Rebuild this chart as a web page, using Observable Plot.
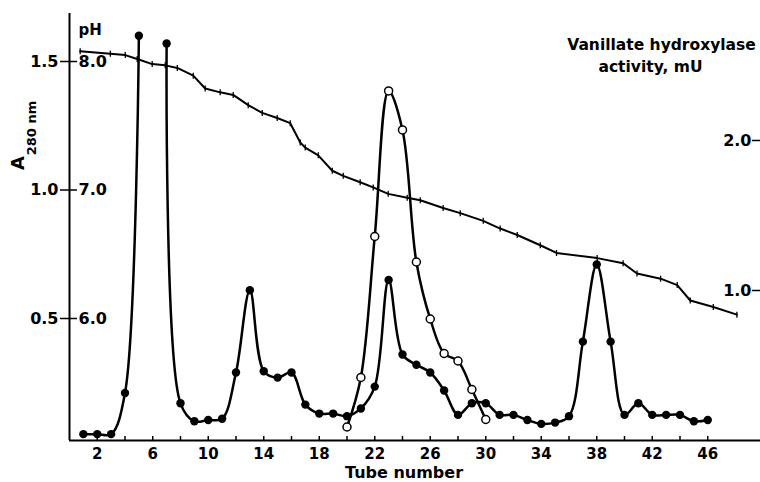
<!DOCTYPE html>
<html>
<head>
<meta charset="utf-8">
<script src="https://cdn.jsdelivr.net/npm/d3@7"></script>
<script src="https://cdn.jsdelivr.net/npm/@observablehq/plot@0.6"></script>
<style>
  html, body { margin: 0; padding: 0; background: #fff; }
</style>
</head>
<body>
<div id="chart"></div>
<script>
// ---- data ----
const tubes = d3.range(1, 47);
const a280 = [0.05, 0.05, 0.05, 0.21, 1.60, null, 1.57, 0.17, 0.10, 0.105,
              0.11, 0.29, 0.61, 0.295, 0.27, 0.29, 0.165, 0.13, 0.13, 0.12,
              0.15, 0.235, 0.65, 0.36, 0.32, 0.29, 0.22, 0.125, 0.17, 0.17,
              0.125, 0.125, 0.105, 0.09, 0.095, 0.12, 0.41, 0.71, 0.41, 0.125,
              0.17, 0.125, 0.125, 0.125, 0.10, 0.105];
const actTubes = [20, 21, 22, 23, 24, 25, 26, 27, 28, 29, 30];
const activity = [0.09, 0.42, 1.36, 2.33, 2.07, 1.19, 0.81, 0.58, 0.53, 0.34, 0.14];
const phTubes = [0.77, 2.94, 4.02, 4.88, 5.96, 6.9, 7.77, 8.92, 9.78, 10.86,
                 11.8, 12.88, 13.89, 14.97, 15.91, 16.63, 16.99, 17.93, 18.94, 19.73,
                 20.95, 21.89, 22.97, 24.34, 25.28, 26.93, 28.16, 29.82, 31.04, 32.27,
                 33.93, 35.1, 38.03, 39.9, 40.9, 42.6, 43.8, 44.74, 46.4, 48.1];
const phValues = [8.08, 8.06, 8.05, 8.02, 7.98, 7.97, 7.95, 7.89, 7.79, 7.76,
                  7.74, 7.66, 7.60, 7.56, 7.52, 7.37, 7.33, 7.27, 7.15, 7.11,
                  7.06, 7.02, 6.97, 6.94, 6.92, 6.86, 6.82, 6.76, 6.70, 6.65,
                  6.57, 6.51, 6.47, 6.43, 6.35, 6.31, 6.26, 6.14, 6.09, 6.03];
const xTickLabels = [2, 6, 10, 14, 18, 22, 26, 30, 34, 38, 42, 46];
const xTickMarks = d3.range(2, 47, 2);
const aTicks = [0.5, 1.0, 1.5];
const phTicks = [6.0, 7.0, 8.0];
const actTicks = [1.0, 2.0];

// ---- layout ----
const W = 760, H = 482;
const mL = 69, mR = 0, mT = 13, mB = 42;
const frameW = W - mL - mR, frameH = H - mT - mB;
const xMax = frameW / 13.875;
const yMin = 0.0253, yMax = 1.6868;
// secondary scales mapped onto A280 axis
const phToA = p => (p - 5) / 2;
const actToA = a => yMin + a * 0.5837;

const a280Data = tubes.map((t, i) => ({t, v: a280[i]}));
const actData = actTubes.map((t, i) => ({t, v: actToA(activity[i])}));
const phData = phTubes.map((t, i) => ({t, v: phToA(phValues[i])}));

const FONT = "DejaVu Sans";
const tickSymbol = {
  draw(context, size) {
    const h = Math.sqrt(size / Math.PI);
    context.moveTo(0, -h);
    context.lineTo(0, h);
  }
};
const label = (txt, frameAnchor, dx, dy, fontSize, extra = {}) =>
  Plot.text([txt], {text: d => d, frameAnchor, dx, dy, fontSize, fontWeight: "bold",
                    textAnchor: "middle", lineAnchor: "middle", ...extra});

const chart = Plot.plot({
  width: W, height: H,
  marginLeft: mL, marginRight: mR, marginTop: mT, marginBottom: mB,
  style: {fontFamily: FONT, fontWeight: "bold", fontSize: "15px", background: "#fff", color: "#000"},
  x: {domain: [0, xMax]},
  y: {domain: [yMin, yMax]},
  marks: [
    // axis lines
    Plot.ruleX([0], {stroke: "#000", strokeWidth: 2}),
    Plot.ruleY([yMin], {stroke: "#000", strokeWidth: 2}),
    // x axis: inward ticks every 2 tubes, labels every 4
    Plot.tickX(xTickMarks, {x: d => d, insetTop: frameH - 4, stroke: "#000", strokeWidth: 1.5}),
    Plot.axisX({ticks: xTickLabels, tickSize: 0, tickPadding: 8, tickFormat: d => String(d),
                fontSize: 15, fontWeight: "bold", label: null}),
    label("Tube number", "bottom", -11, 32, 16),
    // left axis A280 + pH
    Plot.axisY({ticks: aTicks, tickSize: 17, dx: 8, tickPadding: 2, strokeWidth: 1.5,
                tickFormat: d => d.toFixed(1), fontSize: 16, fontWeight: "bold", label: null}),
    Plot.text(phTicks, {y: d => phToA(d), text: d => d.toFixed(1), frameAnchor: "left",
                        textAnchor: "start", lineAnchor: "middle", dx: 9, fontSize: 16, fontWeight: "bold"}),
    label("pH", "top-left", 9, 17, 15, {textAnchor: "start"}),
    label("A", "left", -51, -64, 18, {rotate: -90}),
    label("280 nm", "left", -38, -99, 13, {rotate: -90}),
    // right axis activity
    Plot.tickY(actTicks, {y: d => actToA(d), insetLeft: frameW - 8, stroke: "#000", strokeWidth: 1.5}),
    Plot.text(actTicks, {y: d => actToA(d), text: d => d.toFixed(1), frameAnchor: "right",
                         textAnchor: "end", lineAnchor: "middle", dx: -9, fontSize: 16, fontWeight: "bold"}),
    label("Vanillate hydroxylase", "top-right", -99, 32, 15.5),
    label("activity, mU", "top-right", -110, 54, 15.5),
    // pH gradient line with tick marks
    Plot.line(phData, {x: "t", y: "v", stroke: "#000", strokeWidth: 2, curve: "linear"}),
    Plot.dot(phData, {x: "t", y: "v", symbol: tickSymbol, r: 3, fill: "none", stroke: "#000", strokeWidth: 1.3}),
    // activity (open circles)
    Plot.line(actData, {x: "t", y: "v", stroke: "#000", strokeWidth: 2.5, curve: "catmull-rom"}),
    // A280 (filled circles)
    Plot.line(a280Data, {x: "t", y: "v", stroke: "#000", strokeWidth: 2.5, curve: "catmull-rom"}),
    Plot.dot(actData, {x: "t", y: "v", r: 4, fill: "#fff", stroke: "#000", strokeWidth: 1.5}),
    Plot.dot(a280Data, {x: "t", y: "v", r: 4.2, fill: "#000", stroke: "none"})
  ]
});
document.getElementById("chart").appendChild(chart);
</script>
</body>
</html>
